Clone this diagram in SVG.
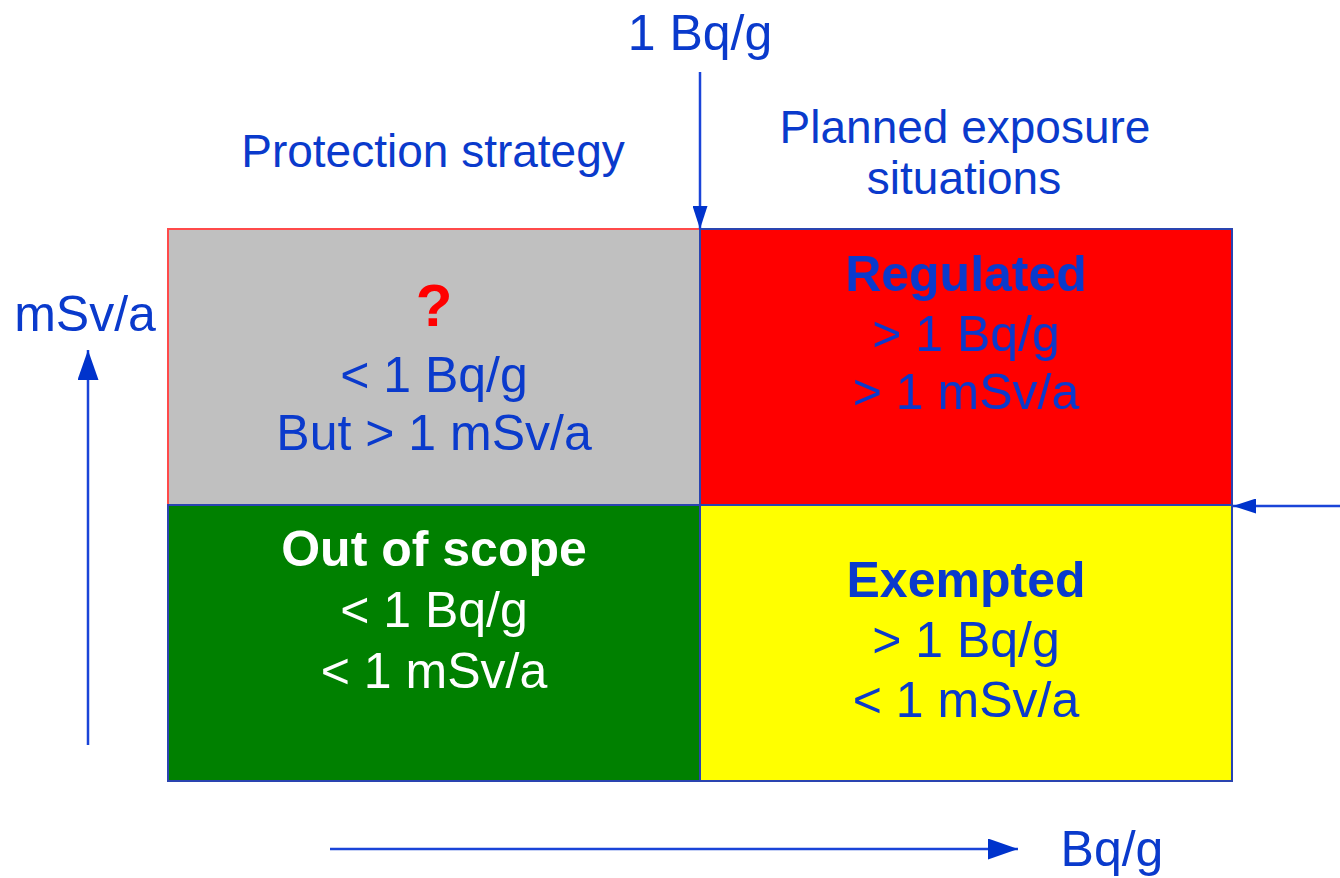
<svg xmlns="http://www.w3.org/2000/svg" width="1340" height="878" viewBox="0 0 1340 878">
<style>
text{font-family:"Liberation Sans",Arial,sans-serif;text-anchor:middle}
.t{fill:#0a3acc;font-size:50px}
.h{fill:#0a3acc;font-size:46px}
.b{font-weight:bold}
.w{fill:#ffffff;font-size:50px}
.cell{stroke:#2a44b0;stroke-width:2}
.ln{stroke:#1a44d8;stroke-width:2.5;fill:none}
</style>
<defs>
<marker id="ahS" viewBox="0 0 23 15" refX="23" refY="7.5" markerWidth="23" markerHeight="15" markerUnits="userSpaceOnUse" orient="auto"><path d="M0,0 L23,7.5 L0,15 z" fill="#0033cc"/></marker>
<marker id="ahL" viewBox="0 0 30 21" refX="30" refY="10.5" markerWidth="30" markerHeight="21" markerUnits="userSpaceOnUse" orient="auto"><path d="M0,0 L30,10.5 L0,21 z" fill="#0033cc"/></marker>
</defs>
<rect width="1340" height="878" fill="#ffffff"/>
<g id="grey-cell">
<rect x="168" y="229" width="532" height="276" fill="#c0c0c0" stroke="#ff4a4a" stroke-width="2"/>
<text x="434" y="326" style="font-size:60px;fill:#ff0000;font-weight:bold">?</text>
<text class="t" x="434" y="392">&lt; 1 Bq/g</text>
<text class="t" x="434" y="450">But &gt; 1 mSv/a</text>
</g>
<g id="green-cell">
<rect class="cell" x="168" y="505" width="532" height="276" fill="#008000"/>
<text class="w b" x="434" y="566">Out of scope</text>
<text class="w" x="434" y="627">&lt; 1 Bq/g</text>
<text class="w" x="434" y="688">&lt; 1 mSv/a</text>
</g>
<g id="yellow-cell">
<rect class="cell" x="700" y="505" width="532" height="276" fill="#ffff00"/>
<text class="t b" x="966" y="597">Exempted</text>
<text class="t" x="966" y="657">&gt; 1 Bq/g</text>
<text class="t" x="966" y="717">&lt; 1 mSv/a</text>
</g>
<g id="red-cell">
<rect class="cell" x="700" y="229" width="532" height="276" fill="#ff0000"/>
<text class="t b" x="966" y="291">Regulated</text>
<text class="t" x="966" y="351">&gt; 1 Bq/g</text>
<text class="t" x="966" y="409">&gt; 1 mSv/a</text>
</g>
<g id="labels">
<text class="t" x="700" y="50">1 Bq/g</text>
<text class="h" x="433" y="167">Protection strategy</text>
<text class="h" x="965" y="143">Planned exposure</text>
<text class="h" x="964" y="194">situations</text>
<text class="t" x="85" y="331">mSv/a</text>
<text class="t" x="1112" y="866">Bq/g</text>
</g>
<g id="connectors">
<line class="ln" x1="700" y1="72" x2="700" y2="229" marker-end="url(#ahS)"/>
<line class="ln" x1="1340" y1="506" x2="1233" y2="506" marker-end="url(#ahS)"/>
<line class="ln" x1="88" y1="745" x2="88" y2="350" marker-end="url(#ahL)"/>
<line class="ln" x1="330" y1="849" x2="1018" y2="849" marker-end="url(#ahL)"/>
</g>
</svg>
